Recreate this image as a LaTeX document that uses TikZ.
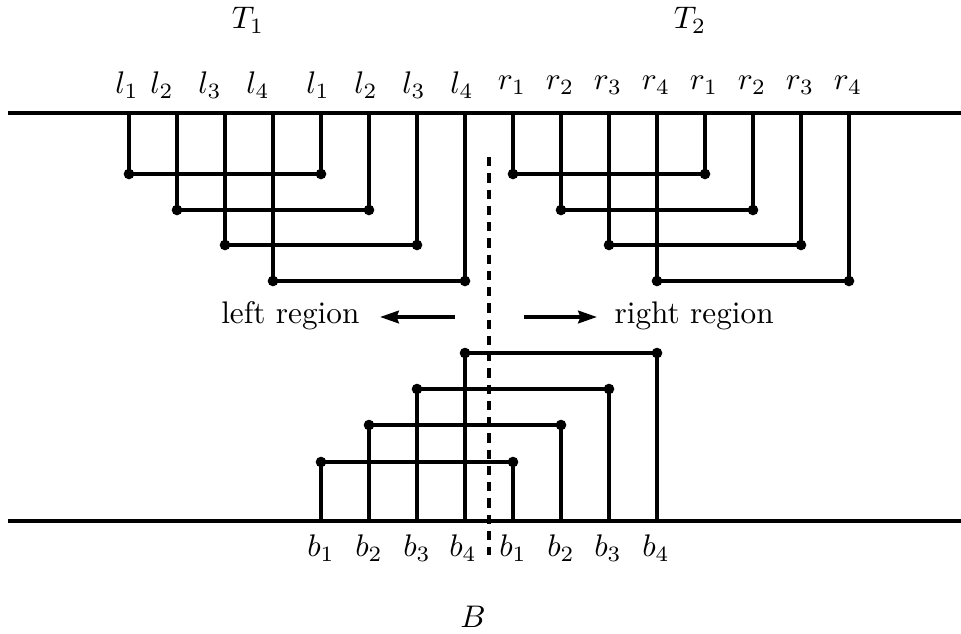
\documentclass[tikz,border=0pt]{standalone}
\usetikzlibrary{arrows.meta}
\begin{document}
\begin{tikzpicture}[x=0.32pt,y=-0.32pt,
  wire/.style={line width=1.15pt},
  dotmark/.style={circle,fill=black,inner sep=0pt,minimum size=3.4pt},
  lbl/.style={inner sep=0pt,font=\normalsize},
  arr/.style={line width=1.15pt,-{Stealth[length=6pt,width=4pt,inset=0.7pt]}}]
\useasboundingbox (0,0) rectangle (961,633);
% base lines
\coordinate (topL) at (8,113);
\coordinate (topR) at (961,113);
\coordinate (botL) at (8,521);
\coordinate (botR) at (961,521);
\draw[wire] (topL) -- (topR);
\draw[wire] (botL) -- (botR);
% top columns
\foreach \i in {1,...,16}{
  \coordinate (t\i) at ({129+48*(\i-1)},113);
}
% left and right group connectors
\foreach \i/\yy in {1/174,2/210,3/245,4/281}{
  \pgfmathtruncatemacro{\j}{\i+4}
  \pgfmathtruncatemacro{\m}{\i+8}
  \pgfmathtruncatemacro{\n}{\i+12}
  \node[dotmark] (la\i) at ({129+48*(\i-1)},\yy) {};
  \node[dotmark] (lb\i) at ({129+48*(\j-1)},\yy) {};
  \draw[wire] (t\i) -- (la\i.center) -- (lb\i.center) -- (t\j);
  \node[dotmark] (ra\i) at ({129+48*(\m-1)},\yy) {};
  \node[dotmark] (rb\i) at ({129+48*(\n-1)},\yy) {};
  \draw[wire] (t\m) -- (ra\i.center) -- (rb\i.center) -- (t\n);
}
% top labels
\foreach \x/\t [count=\k] in {127/l_1,162/l_2,210/l_3,258/l_4,318/l_1,366/l_2,414/l_3,462/l_4,
  512/r_1,560/r_2,608/r_3,656/r_4,704/r_1,752/r_2,800/r_3,848/r_4}{
  \node[lbl] (tl\k) at (\x,85) {$\t$};
}
\node[lbl] (T1) at (248,20) {$T_1$};
\node[lbl] (T2) at (690,20) {$T_2$};
% bottom columns
\foreach \i in {1,...,8}{
  \coordinate (b\i) at ({321+48*(\i-1)},521);
}
\foreach \i/\yy in {1/462,2/425,3/389,4/353}{
  \pgfmathtruncatemacro{\j}{\i+4}
  \node[dotmark] (ba\i) at ({321+48*(\i-1)},\yy) {};
  \node[dotmark] (bb\i) at ({321+48*(\j-1)},\yy) {};
  \draw[wire] (b\i) -- (ba\i.center) -- (bb\i.center) -- (b\j);
}
\foreach \x/\t [count=\k] in {321/b_1,369/b_2,417/b_3,463/b_4,513/b_1,561/b_2,608/b_3,656/b_4}{
  \node[lbl] (bl\k) at (\x,548) {$\t$};
}
\node[lbl] (B) at (473,617) {$B$};
% dashed divider
\coordinate (dvT) at (489,157);
\coordinate (dvB) at (489,555);
\draw[wire,dash pattern=on 3pt off 2.2pt] (dvT) -- (dvB);
% region labels
\node[lbl,anchor=east] (lreg) at (360,316) {left region};
\node[lbl,anchor=west] (rreg) at (614,316) {right region};
\coordinate (la0) at (455,317);
\coordinate (la1) at (380,317);
\coordinate (ra0) at (524,317);
\coordinate (ra1) at (597,317);
\draw[arr] (la0) -- (la1);
\draw[arr] (ra0) -- (ra1);
\end{tikzpicture}
\end{document}
